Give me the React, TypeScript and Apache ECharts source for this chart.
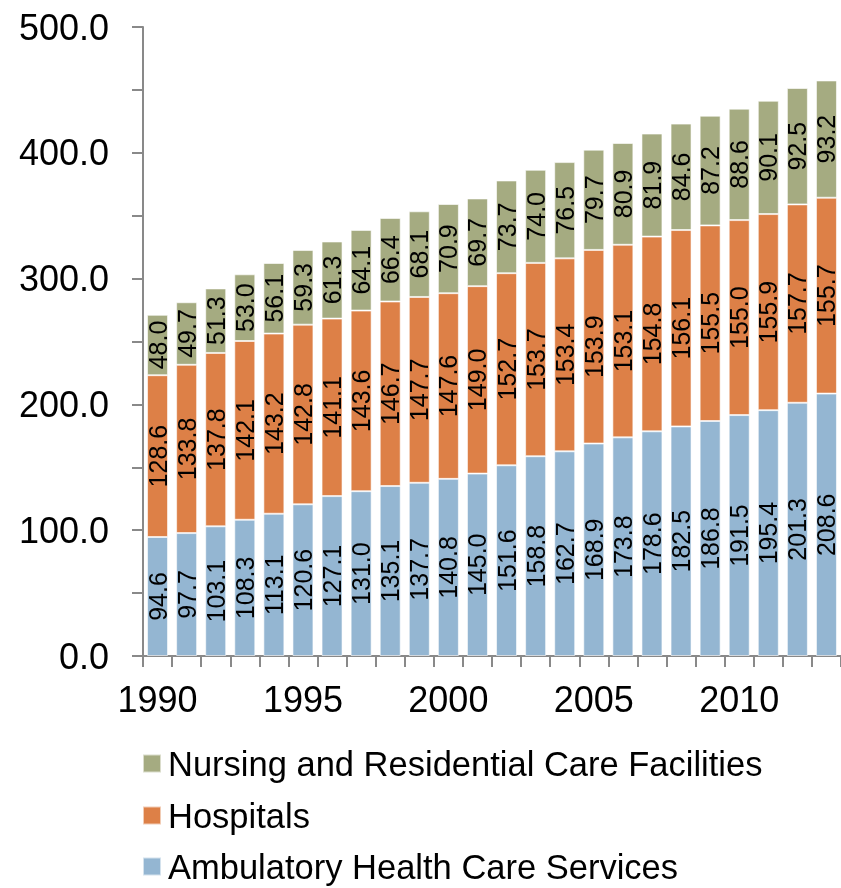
import React, { useEffect, useRef } from "react";
import * as echarts from "echarts";

const years = Array.from({ length: 24 }, (_, i) => String(1990 + i));
const ambulatory = [94.6, 97.7, 103.1, 108.3, 113.1, 120.6, 127.1, 131.0, 135.1, 137.7, 140.8, 145.0, 151.6, 158.8, 162.7, 168.9, 173.8, 178.6, 182.5, 186.8, 191.5, 195.4, 201.3, 208.6];
const hospitals = [128.6, 133.8, 137.8, 142.1, 143.2, 142.8, 141.1, 143.6, 146.7, 147.7, 147.6, 149.0, 152.7, 153.7, 153.4, 153.9, 153.1, 154.8, 156.1, 155.5, 155.0, 155.9, 157.7, 155.7];
const nursing = [48.0, 49.7, 51.3, 53.0, 56.1, 59.3, 61.3, 64.1, 66.4, 68.1, 70.9, 69.7, 73.7, 74.0, 76.5, 79.7, 80.9, 81.9, 84.6, 87.2, 88.6, 90.1, 92.5, 93.2];
const seriesNames = ["Ambulatory Health Care Services", "Hospitals", "Nursing and Residential Care Facilities"];
const colors = ["#94B6D2", "#DD8047", "#A5AB81"];
const legendOrder = [2, 1, 0];

const FONT = "'Liberation Sans', Arial, sans-serif";

export default function App() {
  const ref = useRef<HTMLDivElement>(null);
  useEffect(() => {
    if (!ref.current) return;
    const chart = echarts.init(ref.current, null, { renderer: "svg" });
    const dataSets = [ambulatory, hospitals, nursing];
    const legendTops = [746, 798, 849];
    chart.setOption({
      animation: false,
      textStyle: { fontFamily: FONT },
      grid: { left: 143, top: 27, width: 701, bottom: 232, containLabel: false },
      legend: legendOrder.map((si, k) => ({
        orient: "horizontal",
        left: 142,
        top: legendTops[k],
        padding: 0,
        itemWidth: 18,
        itemHeight: 18,
        icon: "rect",
        data: [seriesNames[si]],
        textStyle: { fontSize: 34.5, color: "#000", fontFamily: FONT, padding: [0, 0, 0, 2] },
      })),
      xAxis: {
        type: "category",
        data: years,
        axisLine: { lineStyle: { color: "#898989", width: 2 } },
        axisTick: { show: true, interval: 0, length: 11, lineStyle: { color: "#898989", width: 2 } },
        axisLabel: { interval: 4, fontSize: 36, color: "#000", margin: 25, fontFamily: FONT },
        splitLine: { show: false },
      },
      yAxis: {
        type: "value",
        min: 0,
        max: 500,
        interval: 50,
        axisLine: { show: true, lineStyle: { color: "#898989", width: 2 } },
        axisTick: { show: true, length: 11, lineStyle: { color: "#898989", width: 2 } },
        axisLabel: {
          fontSize: 36,
          color: "#000",
          margin: 34,
          fontFamily: FONT,
          formatter: (v: number) => (v % 100 === 0 ? v.toFixed(1) : ""),
        },
        splitLine: { show: false },
      },
      series: dataSets.map((d, i) => ({
        name: seriesNames[i],
        type: "bar",
        stack: "total",
        data: d,
        barWidth: 21,
        itemStyle: { color: colors[i], borderColor: "rgba(255,255,255,0.6)", borderWidth: 1 },
        label: {
          show: true,
          position: "inside",
          rotate: 90,
          fontSize: 25,
          color: "#000",
          fontFamily: FONT,
          formatter: (p: any) => Number(p.value).toFixed(1),
        },
      })),
    });
    return () => chart.dispose();
  }, []);
  return <div ref={ref} style={{ position: "fixed", left: 0, top: 0, width: 841, height: 888 }} />;
}
